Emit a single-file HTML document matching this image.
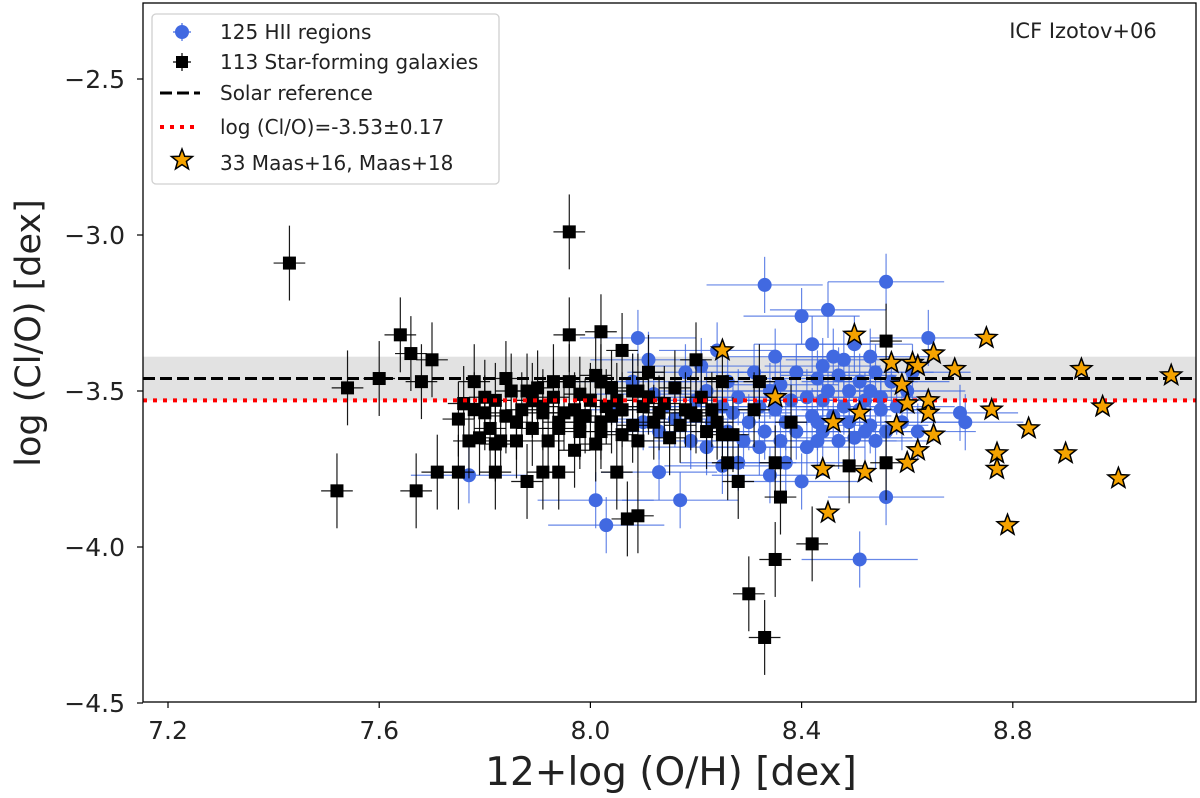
<!DOCTYPE html>
<html><head><meta charset="utf-8">
<style>
html,body{margin:0;padding:0;background:#fff;}
svg{display:block;font-family:"DejaVu Sans","Liberation Sans",sans-serif;}
</style></head>
<body>
<svg id="chart" width="1200" height="798" viewBox="0 0 1200 798" xmlns="http://www.w3.org/2000/svg">
  <g id="band-layer"></g>
  <g id="marks"></g>
  <g id="axes"></g>
  <g id="legend">
    <rect x="152" y="14" width="347" height="170" rx="4" fill="#fff" fill-opacity="0.85" stroke="#d0d0d0" stroke-width="1.3"/>
    <g>
      <line x1="182" y1="23" x2="182" y2="41" stroke="#4169e1" stroke-width="1.2"/>
      <line x1="173" y1="32" x2="191" y2="32" stroke="#4169e1" stroke-width="1.2"/>
      <circle cx="182" cy="32" r="7" fill="#4169e1"/>
      <text x="220" y="39" font-size="20" fill="#222">125 HII regions</text>
    </g>
    <g>
      <line x1="182" y1="53" x2="182" y2="71" stroke="#000" stroke-width="1.2"/>
      <line x1="173" y1="62" x2="191" y2="62" stroke="#000" stroke-width="1.2"/>
      <rect x="176" y="56" width="12" height="12" fill="#000"/>
      <text x="220" y="69" font-size="20" fill="#222">113 Star-forming galaxies</text>
    </g>
    <g>
      <line x1="160" y1="93" x2="200" y2="93" stroke="#000" stroke-width="3" stroke-dasharray="12,5"/>
      <text x="220" y="100" font-size="20" fill="#222">Solar reference</text>
    </g>
    <g>
      <line x1="160" y1="127" x2="200" y2="127" stroke="#ff0000" stroke-width="4" stroke-dasharray="4,6"/>
      <text x="220" y="134" font-size="20" fill="#222">log (Cl/O)=-3.53±0.17</text>
    </g>
    <g>
      <polygon id="legstar" fill="#f5a300" stroke="#000" stroke-width="1.5"/>
      <text x="220" y="170" font-size="20" fill="#222">33 Maas+16, Maas+18</text>
    </g>
  </g>
  <text x="1083" y="38" font-size="21" text-anchor="middle" fill="#222">ICF Izotov+06</text>
</svg>
<script>
const blackX=[7.43,7.96,7.52,7.54,7.60,7.64,7.66,7.67,7.70,7.75,7.75,7.76,7.77,7.78,7.78,7.79,7.80,7.80,7.81,7.82,7.82,7.82,7.83,7.84,7.84,7.85,7.86,7.87,7.88,7.89,7.89,7.90,7.91,7.91,7.91,7.92,7.93,7.93,7.94,7.94,7.95,7.96,7.96,7.97,7.97,7.98,7.98,7.99,8.00,8.01,8.01,8.02,8.02,8.03,8.04,8.04,8.05,8.05,8.06,8.06,8.06,8.07,8.08,8.08,8.09,8.09,8.10,8.11,8.11,8.12,8.13,8.14,8.15,8.16,8.17,8.18,8.19,8.20,8.21,8.22,8.23,8.24,8.25,8.25,8.26,8.27,8.28,8.30,8.31,8.32,8.33,8.35,8.35,8.36,8.38,8.42,8.49,8.56,8.56,8.20,8.09,8.02,7.94,7.86,7.71,7.68,7.88,8.02,7.98];
const blackY=[-3.09,-2.99,-3.82,-3.49,-3.46,-3.32,-3.38,-3.82,-3.40,-3.76,-3.59,-3.54,-3.66,-3.56,-3.47,-3.65,-3.52,-3.57,-3.62,-3.67,-3.53,-3.76,-3.66,-3.58,-3.46,-3.50,-3.60,-3.56,-3.79,-3.53,-3.62,-3.49,-3.57,-3.76,-3.55,-3.66,-3.47,-3.52,-3.62,-3.60,-3.57,-3.32,-3.47,-3.69,-3.56,-3.51,-3.63,-3.58,-3.53,-3.45,-3.67,-3.60,-3.31,-3.55,-3.49,-3.58,-3.76,-3.53,-3.64,-3.56,-3.37,-3.91,-3.50,-3.61,-3.66,-3.90,-3.55,-3.44,-3.52,-3.60,-3.57,-3.54,-3.65,-3.49,-3.61,-3.56,-3.57,-3.58,-3.52,-3.63,-3.56,-3.60,-3.47,-3.64,-3.73,-3.64,-3.79,-4.15,-3.56,-3.47,-4.29,-4.04,-3.73,-3.84,-3.60,-3.99,-3.74,-3.34,-3.73,-3.40,-3.50,-3.63,-3.76,-3.66,-3.76,-3.47,-3.50,-3.47,-3.60];
const blueX=[7.77,8.01,8.03,8.51,8.56,8.33,8.05,8.08,8.09,8.10,8.11,8.12,8.13,8.14,8.16,8.17,8.18,8.19,8.20,8.21,8.22,8.22,8.23,8.24,8.25,8.26,8.26,8.27,8.28,8.29,8.30,8.31,8.32,8.32,8.33,8.34,8.34,8.35,8.35,8.36,8.36,8.37,8.37,8.38,8.39,8.39,8.40,8.40,8.41,8.41,8.42,8.42,8.43,8.43,8.43,8.44,8.44,8.44,8.45,8.45,8.46,8.46,8.47,8.47,8.48,8.48,8.49,8.49,8.50,8.50,8.51,8.51,8.52,8.52,8.53,8.53,8.53,8.54,8.54,8.55,8.55,8.56,8.57,8.58,8.59,8.60,8.61,8.62,8.64,8.70,8.71,8.25,8.28,8.13,8.21,8.56];
const blueY=[-3.77,-3.85,-3.93,-4.04,-3.15,-3.16,-3.56,-3.47,-3.33,-3.60,-3.40,-3.51,-3.63,-3.55,-3.59,-3.85,-3.44,-3.66,-3.53,-3.42,-3.68,-3.50,-3.60,-3.37,-3.55,-3.63,-3.47,-3.57,-3.52,-3.66,-3.60,-3.44,-3.55,-3.68,-3.63,-3.50,-3.77,-3.56,-3.39,-3.66,-3.48,-3.60,-3.73,-3.53,-3.44,-3.63,-3.26,-3.79,-3.68,-3.52,-3.58,-3.35,-3.46,-3.60,-3.66,-3.42,-3.53,-3.63,-3.24,-3.50,-3.58,-3.39,-3.66,-3.45,-3.55,-3.40,-3.60,-3.50,-3.65,-3.35,-3.56,-3.47,-3.63,-3.53,-3.39,-3.61,-3.50,-3.66,-3.44,-3.56,-3.52,-3.63,-3.47,-3.55,-3.60,-3.50,-3.44,-3.63,-3.33,-3.57,-3.60,-3.74,-3.73,-3.76,-3.52,-3.84];
const starX=[8.25,8.35,8.44,8.45,8.46,8.50,8.51,8.52,8.57,8.58,8.59,8.60,8.60,8.61,8.62,8.62,8.64,8.64,8.65,8.65,8.69,8.75,8.76,8.77,8.77,8.79,8.83,8.90,8.93,8.97,9.00,9.10];
const starY=[-3.37,-3.52,-3.75,-3.89,-3.60,-3.32,-3.57,-3.76,-3.41,-3.61,-3.48,-3.54,-3.73,-3.41,-3.69,-3.42,-3.57,-3.53,-3.64,-3.38,-3.43,-3.33,-3.56,-3.70,-3.75,-3.93,-3.62,-3.70,-3.43,-3.55,-3.78,-3.45];
const xTicks=[7.2,7.6,8.0,8.4,8.8];
const yTicks=[-2.5,-3.0,-3.5,-4.0,-4.5];
const solarValue=-3.46, solarErr=0.07, meanValue=-3.53;
const blackXErr=0.03, blackYErr=0.12, blueXErr=0.11, blueYErr=0.09;

const L=143,R=1196,T=3,B=702;
const xs=v=>168+(v-7.2)*528;
const ys=v=>79+(-2.5-v)*312;
const NS='http://www.w3.org/2000/svg';
function mk(tag,attrs,parent){const e=document.createElementNS(NS,tag);for(const k in attrs)e.setAttribute(k,attrs[k]);parent.appendChild(e);return e;}
const band=document.getElementById('band-layer'),marks=document.getElementById('marks'),axes=document.getElementById('axes');

const b=mk('rect',{x:L,y:ys(solarValue+solarErr),width:R-L,height:ys(solarValue-solarErr)-ys(solarValue+solarErr),fill:'#e2e2e2'},band);



function errbar(g,x,y,xe,ye,col,op){
  mk('line',{x1:xs(x-xe),x2:xs(x+xe),y1:ys(y),y2:ys(y),stroke:col,'stroke-width':1.2,'stroke-opacity':op},g);
  mk('line',{x1:xs(x),x2:xs(x),y1:ys(y+ye),y2:ys(y-ye),stroke:col,'stroke-width':1.2,'stroke-opacity':op},g);
}
const gBlue=mk('g',{},marks);


blueX.forEach((x,i)=>errbar(gBlue,x,blueY[i],blueXErr,blueYErr,'#4169e1',0.8));
blueX.forEach((x,i)=>{const c=mk('circle',{cx:xs(x),cy:ys(blueY[i]),r:7,fill:'#4169e1'},gBlue);

});
const gBlack=mk('g',{},marks);


blackX.forEach((x,i)=>errbar(gBlack,x,blackY[i],blackXErr,blackYErr,'#000',0.9));
blackX.forEach((x,i)=>{const r=mk('rect',{x:xs(x)-6.5,y:ys(blackY[i])-6.5,width:13,height:13,fill:'#000'},gBlack);

});

const sl=mk('line',{x1:L,x2:R,y1:ys(solarValue),y2:ys(solarValue),stroke:'#000','stroke-width':3,'stroke-dasharray':'12,5'},marks);


const ml=mk('line',{x1:L,x2:R,y1:ys(meanValue),y2:ys(meanValue),stroke:'#ff0000','stroke-width':4,'stroke-dasharray':'4,6'},marks);



function starPts(cx,cy,ro,ri){let p=[];for(let k=0;k<10;k++){const a=-Math.PI/2+k*Math.PI/5,r=k%2?ri:ro;p.push((cx+r*Math.cos(a)).toFixed(1)+','+(cy+r*Math.sin(a)).toFixed(1));}return p.join(' ');}
const gStar=mk('g',{},marks);


starX.forEach((x,i)=>{const s=mk('polygon',{points:starPts(xs(x),ys(starY[i]),11,4.6),fill:'#f5a300',stroke:'#000','stroke-width':1.5},gStar);

});
document.getElementById('legstar').setAttribute('points',starPts(182,160,11,4.6));

const frame=mk('rect',{x:L,y:T,width:R-L,height:B-T,fill:'none',stroke:'#000','stroke-width':1.3},axes);


xTicks.forEach(v=>{mk('line',{x1:xs(v),x2:xs(v),y1:B,y2:B+6,stroke:'#000','stroke-width':1.2},axes);
const t=mk('text',{x:xs(v),y:B+37,'font-size':25,'text-anchor':'middle',fill:'#222'},axes);t.textContent=v.toFixed(1);

});
yTicks.forEach(v=>{mk('line',{x1:L-6,x2:L,y1:ys(v),y2:ys(v),stroke:'#000','stroke-width':1.2},axes);
const t=mk('text',{x:L-18,y:ys(v)+9,'font-size':25,'text-anchor':'end',fill:'#222'},axes);t.textContent='\u2212'+Math.abs(v).toFixed(1);

});
const xt=mk('text',{x:671,y:785,'font-size':39,'text-anchor':'middle',fill:'#222'},axes);xt.textContent='12+log (O/H) [dex]';


const yt=mk('text',{x:0,y:0,'font-size':35,'text-anchor':'middle',fill:'#222',transform:'translate(40,333) rotate(-90)'},axes);yt.textContent='log (Cl/O) [dex]';


</script>
</body></html>
